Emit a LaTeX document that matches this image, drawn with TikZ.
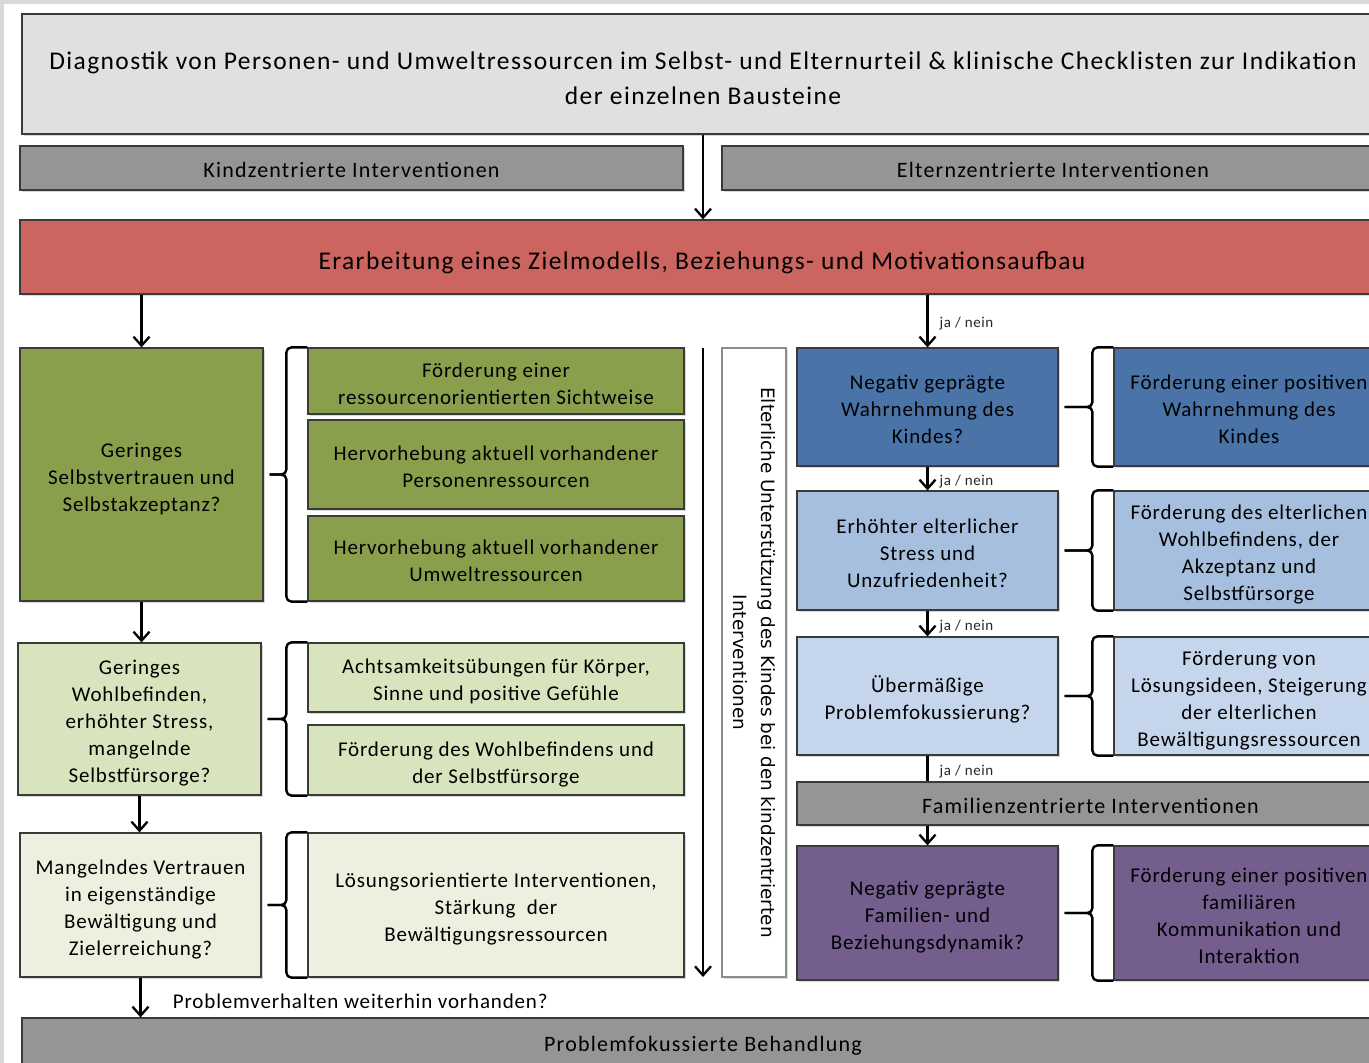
\documentclass[tikz,border=0pt]{standalone}
\usepackage{fontspec}
\setmainfont{Carlito}
\newfontfamily\bodyfam[LetterSpace=4]{Carlito}
\newfontfamily\widefam[LetterSpace=5.5]{Carlito}
\newfontfamily\vertfont{DejaVu Sans}
\usetikzlibrary{arrows.meta,shadows,calc}

\definecolor{framegray}{HTML}{D9D9D9}
\definecolor{topgray}{HTML}{E0E0E0}
\definecolor{bargray}{HTML}{959595}
\definecolor{boxline}{HTML}{3A3A3A}
\definecolor{redbox}{HTML}{CC6560}
\definecolor{olive}{HTML}{8A9F4B}
\definecolor{greenmid}{HTML}{D7E4BD}
\definecolor{greenlight}{HTML}{EBF1DE}
\definecolor{bluedark}{HTML}{4A74A8}
\definecolor{bluemid}{HTML}{A7BFDE}
\definecolor{bluelight}{HTML}{C5D6EC}
\definecolor{purplebox}{HTML}{735E8E}
\definecolor{vgray}{HTML}{8C8C8C}

% struts that fix the first-line height and last-line depth of box texts
\newcommand{\bx}[1]{\rule{0pt}{25pt}#1\rule[-6pt]{0pt}{6pt}}
\newcommand{\hdr}[1]{\rule{0pt}{32.5pt}#1\rule[-6pt]{0pt}{6pt}}

\tikzset{
  textdrop/.style={execute at begin node={\rule{0pt}{#1}}},
  box/.style={draw=boxline, line width=1.2pt, align=center, inner sep=2pt,
    text=black, font=\bodyfam\fontsize{21}{27}\selectfont,
    drop shadow={shadow xshift=1.5pt, shadow yshift=-2pt, opacity=0.3}},
  barbox/.style={box, fill=bargray, font=\widefam\fontsize{22}{27}\selectfont},
  arr/.style={line width=2.3pt, draw=black,
    -{Straight Barb[length=9pt,width=16pt,line width=2.3pt]}},
  plainline/.style={line width=2.3pt, draw=black},
  bracestyle/.style={line width=2.4pt, draw=black, rounded corners=5pt},
  jn/.style={right, xshift=9pt, yshift=-3pt, inner sep=2pt, font=\bodyfam\fontsize{15}{17}\selectfont, text=black!85},
  qbox/.style={box, minimum width=243pt},
  mbox/.style={box, minimum width=376pt},
  pqbox/.style={box, minimum width=261pt},
  pmbox/.style={box, minimum width=270pt},
}

% brace from a question box (#1) to its measures (#2 first, #3 last)
\newcommand{\measurebrace}[3]{%
  \draw[bracestyle] (#2.north west) -- ++(-21,0) coordinate (brtop)
     -- (brtop |- #1.east) -- ($(#1.east)+(6,0)$);
  \draw[bracestyle] ($(#1.east)+(6,0)$) -- (brtop |- #1.east)
     -- (brtop |- #3.south west) -- (#3.south west);
}

\begin{document}
\begin{tikzpicture}[x=1pt,y=-1pt]
\useasboundingbox (0,0) rectangle (1369,1063);
\clip (0,0) rectangle (1369,1063);
\fill[framegray] (0,0) rectangle (1369,1063);
\fill[white] (4,4) rectangle (1369,1063);

% header
\node[box, fill=topgray, minimum width=1362pt, minimum height=120pt,
      font=\widefam\fontsize{25.5}{35}\selectfont] (diag) at (703,74)
  {\hdr{Diagnostik von Personen- und Umweltressourcen im Selbst- und Elternurteil \& klinische Checklisten zur Indikation\\der einzelnen Bausteine}};

\node[barbox, textdrop=19.5pt, minimum width=663pt, minimum height=44pt] (kind) at (351.5,168) {Kindzentrierte Interventionen};
\node[barbox, textdrop=19.5pt, minimum width=662pt, minimum height=44pt] (eltern) at (1053,168) {Elternzentrierte Interventionen};

\node[box, fill=redbox, minimum width=1364pt, minimum height=74pt,
      font=\widefam\fontsize{25.5}{32}\selectfont, textdrop=30pt] (ziel) at (702,257)
  {Erarbeitung eines Zielmodells, Beziehungs- und Motivationsaufbau};

% child-centred column
\node[qbox, fill=olive, minimum height=253pt] (g1) at (141.5,474.5)
  {\bx{Geringes\\Selbstvertrauen und\\Selbstakzeptanz?}};
\node[mbox, fill=olive, minimum height=66pt] (r1) at (496,381)
  {\bx{Förderung einer\\ressourcenorientierten Sichtweise}};
\node[mbox, fill=olive, minimum height=89pt] (r2) at (496,464.5)
  {\bx{Hervorhebung aktuell vorhandener\\Personenressourcen}};
\node[mbox, fill=olive, minimum height=85pt] (r3) at (496,558.5)
  {\bx{Hervorhebung aktuell vorhandener\\Umweltressourcen}};

\node[qbox, fill=greenmid, minimum height=152pt] (g2) at (139.5,719)
  {\bx{Geringes\\Wohlbefinden,\\erhöhter Stress,\\mangelnde\\Selbstfürsorge?}};
\node[mbox, fill=greenmid, minimum height=69pt] (r4) at (496,677.5)
  {\bx{Achtsamkeitsübungen für Körper,\\Sinne und positive Gefühle}};
\node[mbox, fill=greenmid, minimum height=70pt] (r5) at (496,760)
  {\bx{Förderung des Wohlbefindens und\\der Selbstfürsorge}};

\node[qbox, fill=greenlight, minimum width=241pt, minimum height=144pt] (g3) at (140.5,905)
  {\bx{Mangelndes Vertrauen\\in eigenständige\\Bewältigung und\\Zielerreichung?}};
\node[mbox, fill=greenlight, minimum height=144pt] (r6) at (496,905)
  {\bx{Lösungsorientierte Interventionen,\\Stärkung\ \ der\\Bewältigungsressourcen}};

\node[barbox, minimum width=1362pt, minimum height=56pt] (probl) at (703,1046)
  {Problemfokussierte Behandlung};

% parental support strip
\node[draw=vgray, line width=2pt, fill=white, minimum width=64pt, minimum height=629pt,
      drop shadow={shadow xshift=1.5pt, shadow yshift=-2pt, opacity=0.25}] (vbox) at (754,662.5) {};
\node[rotate=-90, align=center, font=\vertfont\fontsize{18.4}{28}\selectfont] (vtext) at (vbox.center)
  {Elterliche Unterstützung des Kindes bei den kindzentrierten\\Interventionen};
\coordinate (kstart) at (703,348);
\coordinate (kend) at (703,977);

% parent-centred column
\node[pqbox, fill=bluedark, minimum height=118pt] (b1) at (927.5,407)
  {\bx{Negativ geprägte\\Wahrnehmung des\\Kindes?}};
\node[pmbox, fill=bluedark, minimum height=118pt] (m1) at (1249,407)
  {\bx{Förderung einer positiven\\Wahrnehmung des\\Kindes}};
\node[pqbox, fill=bluemid, minimum height=119pt] (b2) at (927.5,550.5)
  {\bx{Erhöhter elterlicher\\Stress und\\Unzufriedenheit?}};
\node[pmbox, fill=bluemid, minimum height=119pt] (m2) at (1249,550.5)
  {\bx{Förderung des elterlichen\\Wohlbefindens, der\\Akzeptanz und\\Selbstfürsorge}};
\node[pqbox, fill=bluelight, minimum height=118pt] (b3) at (927.5,696)
  {\bx{Übermäßige\\Problemfokussierung?}};
\node[pmbox, fill=bluelight, minimum height=118pt] (m3) at (1249,696)
  {\bx{Förderung von\\Lösungsideen, Steigerung\\der elterlichen\\Bewältigungsressourcen}};

\node[barbox, textdrop=19.5pt, minimum width=587pt, minimum height=43pt] (fam) at (1090.5,803.5)
  {Familienzentrierte Interventionen};

\node[pqbox, fill=purplebox, minimum height=134pt] (p1) at (927.5,913)
  {\bx{Negativ geprägte\\Familien- und\\Beziehungsdynamik?}};
\node[pmbox, fill=purplebox, minimum height=134pt] (pm1) at (1249,913)
  {\bx{Förderung einer positiven\\familiären\\Kommunikation und\\Interaktion}};

% braces
\measurebrace{g1}{r1}{r3}
\measurebrace{g2}{r4}{r5}
\measurebrace{g3}{r6}{r6}
\measurebrace{b1}{m1}{m1}
\measurebrace{b2}{m2}{m2}
\measurebrace{b3}{m3}{m3}
\measurebrace{p1}{pm1}{pm1}

% connectors
\draw[arr] (diag.south) -- (diag.south |- ziel.north);
\draw[arr] (ziel.south -| g1.north) -- (g1.north);
\draw[arr] (g1.south) -- (g1.south |- g2.north);
\draw[arr] (g2.south) -- (g2.south |- g3.north);
\draw[arr] (g3.south) -- node[right, xshift=28pt, yshift=-4pt, font=\bodyfam\fontsize{21}{25}\selectfont] {Problemverhalten weiterhin vorhanden?} (g3.south |- probl.north);
\draw[arr] (kstart) -- (kend);

\draw[arr] (ziel.south -| b1.north) -- node[jn] {ja / nein} (b1.north);
\draw[arr] (b1.south) -- node[jn] {ja / nein} (b2.north);
\draw[arr] (b2.south) -- node[jn] {ja / nein} (b3.north);
\draw[plainline] (b3.south) -- node[jn] {ja / nein} (b3.south |- fam.north);
\draw[arr] (fam.south -| p1.north) -- (p1.north);
\end{tikzpicture}
\end{document}
